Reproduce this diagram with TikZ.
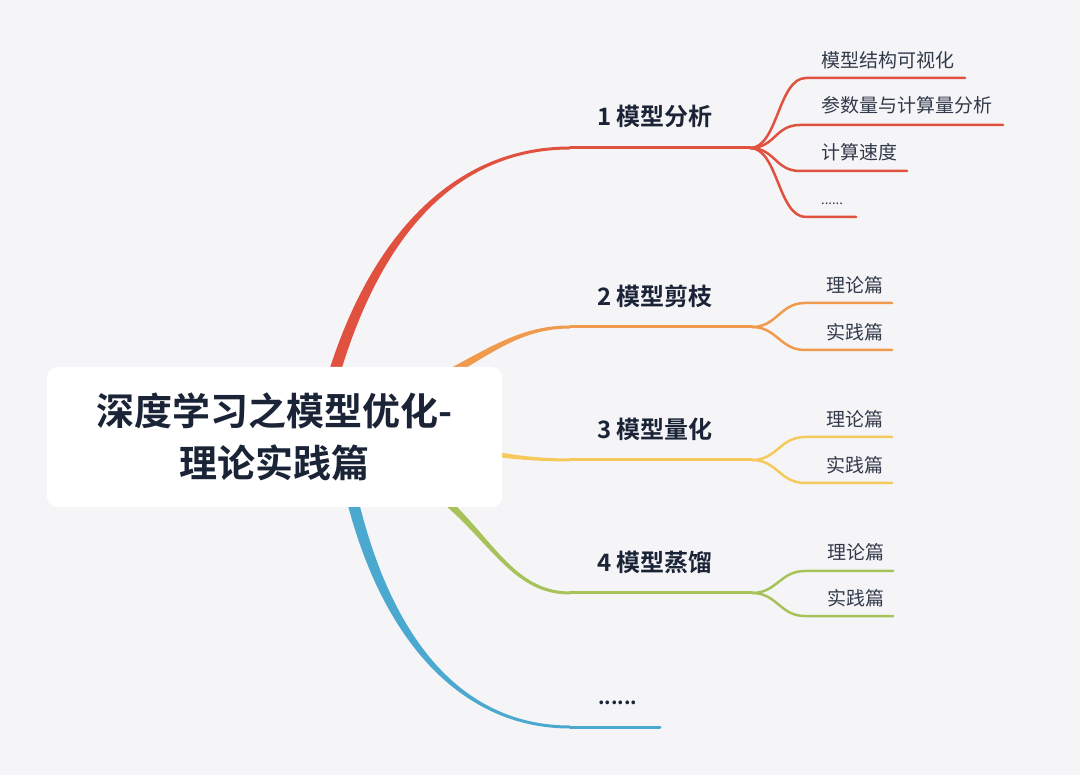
\documentclass[tikz,border=0pt]{standalone}
\usepackage{fontspec}
\setmainfont{Noto Sans CJK SC}[BoldFont={Noto Sans CJK SC Bold}]
\usepackage{xcolor}
\usetikzlibrary{calc,backgrounds}
\definecolor{bgc}{HTML}{F5F5F8}
\definecolor{ink}{HTML}{1B2436}
\definecolor{cred}{HTML}{E0523F}
\definecolor{corange}{HTML}{EF9A4C}
\definecolor{cyellow}{HTML}{F5C95C}
\definecolor{cgreen}{HTML}{A7C258}
\definecolor{cblue}{HTML}{4BA9CF}
\tikzset{
  root/.style ={fill=white, rounded corners=10pt, minimum width=455pt, minimum height=140pt, align=center, text=ink, font=\bfseries\fontsize{38}{52}\selectfont},
  topic/.style={anchor=west, inner sep=0pt, text=ink, font=\bfseries\fontsize{24}{28}\selectfont},
  leaf/.style ={anchor=west, inner sep=0pt, text=ink!90, font=\fontsize{19}{22}\selectfont},
  stem/.style ={line width=3pt, line cap=round},
  twig/.style ={line width=2.5pt, line cap=round},
}
% tapered main branch: colour, start, control 1, control 2, end
\newcommand{\branch}[5]{%
  \fill[#1] ($(#2)!6pt!90:(#3)$) .. controls ($(#3)!6pt!-90:(#2)$) and ($(#4)+(0,-1.5)$) .. ($(#5)+(0,-1.5)$)
    -- ($(#5)+(0,1.5)$) .. controls ($(#4)+(0,1.5)$) and ($(#3)!6pt!90:(#2)$) .. ($(#2)!6pt!-90:(#3)$) -- cycle;}

\begin{document}
\begin{tikzpicture}[x=1pt, y=-1pt]
  \useasboundingbox (0,0) rectangle (1080,775);
  \node[root] (root) at (274.5,437) {深度学习之模型优化-\\理论实践篇};

  % branch ends and forks
  \coordinate (o1) at (318,437); \coordinate (b1) at (570,148); \coordinate (f1) at (750,148);
  \coordinate (o2) at (300,437); \coordinate (b2) at (570,327); \coordinate (f2) at (752,327);
  \coordinate (o3) at (300,437); \coordinate (b3) at (570,460); \coordinate (f3) at (752,460);
  \coordinate (o4) at (300,437); \coordinate (b4) at (570,593); \coordinate (f4) at (752,593);
  \coordinate (o5) at (340,437); \coordinate (b5) at (570,727); \coordinate (e5) at (660,727);

  \begin{scope}[on background layer]
    \fill[bgc] (0,0) rectangle (1080,775);
    \branch{cred}{o1}{355,260}{440,148}{b1}
    \branch{corange}{o2}{460,390}{490,327}{b2}
    \branch{cyellow}{o3}{450,437}{480,460}{b3}
    \branch{cgreen}{o4}{480,460}{480,593}{b4}
    \branch{cblue}{o5}{368,620}{450,727}{b5}
  \end{scope}

  \node[topic] (t1) at (597,116) {1 模型分析};
  \node[topic] (t2) at (597,296) {2 模型剪枝};
  \node[topic] (t3) at (597,429) {3 模型量化};
  \node[topic] (t4) at (597,562) {4 模型蒸馏};
  \node[topic, anchor=base west, font=\bfseries\fontsize{20}{24}\selectfont] (t5) at (598,704) {......};

  \draw[stem, cred] (b1) -- (f1);
  \draw[stem, corange] (b2) -- (f2);
  \draw[stem, cyellow] (b3) -- (f3);
  \draw[stem, cgreen] (b4) -- (f4);
  \draw[stem, cblue] (b5) -- (e5);

  % 1
  \node[leaf] (s11) at (821,60) {模型结构可视化};
  \node[leaf] (s12) at (821,105) {参数量与计算量分析};
  \node[leaf] (s13) at (821,152) {计算速度};
  \node[leaf, anchor=base west, font=\fontsize{13}{16}\selectfont] (s14) at (821,205) {......};
  \coordinate (e11) at (965,78);
  \coordinate (e12) at (1003,125);
  \coordinate (e13) at (907,171);
  \coordinate (e14) at (856,217);
  \draw[twig, cred] (f1) .. controls +(28,0) and +(-28,0) .. (806,78) -- (e11);
  \draw[twig, cred] (f1) .. controls +(25,0) and +(-25,0) .. (800,125) -- (e12);
  \draw[twig, cred] (f1) .. controls +(25,0) and +(-25,0) .. (800,171) -- (e13);
  \draw[twig, cred] (f1) .. controls +(28,0) and +(-28,0) .. (806,217) -- (e14);

  % 2
  \node[leaf] (s21) at (826,285) {理论篇};
  \node[leaf] (s22) at (826,332) {实践篇};
  \coordinate (e21) at (892,303);
  \coordinate (e22) at (892,350);
  \draw[twig, corange] (f2) .. controls +(25,0) and +(-25,0) .. (805,303) -- (e21);
  \draw[twig, corange] (f2) .. controls +(25,0) and +(-25,0) .. (805,350) -- (e22);

  % 3
  \node[leaf] (s31) at (826,419) {理论篇};
  \node[leaf] (s32) at (826,465) {实践篇};
  \coordinate (e31) at (892,437);
  \coordinate (e32) at (892,483);
  \draw[twig, cyellow] (f3) .. controls +(25,0) and +(-25,0) .. (805,437) -- (e31);
  \draw[twig, cyellow] (f3) .. controls +(25,0) and +(-25,0) .. (805,483) -- (e32);

  % 4
  \node[leaf] (s41) at (827,552) {理论篇};
  \node[leaf] (s42) at (827,598) {实践篇};
  \coordinate (e41) at (893,571);
  \coordinate (e42) at (893,616);
  \draw[twig, cgreen] (f4) .. controls +(25,0) and +(-25,0) .. (805,571) -- (e41);
  \draw[twig, cgreen] (f4) .. controls +(25,0) and +(-25,0) .. (805,616) -- (e42);
\end{tikzpicture}
\end{document}
